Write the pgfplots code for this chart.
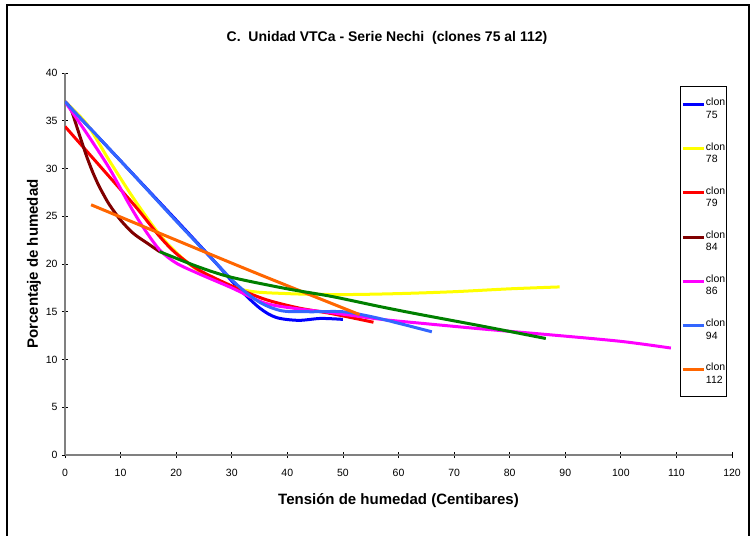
\documentclass[border=0pt]{standalone}
\usepackage{pgfplots}
\pgfplotsset{compat=1.18}
\usepackage{fontspec}
\setmainfont{Liberation Sans}
\definecolor{cBlue}{RGB}{0,0,255}
\definecolor{cYellow}{RGB}{255,255,0}
\definecolor{cRed}{RGB}{255,0,0}
\definecolor{cBrown}{RGB}{128,0,0}
\definecolor{cMag}{RGB}{255,0,255}
\definecolor{cLBlue}{RGB}{51,102,255}
\definecolor{cOrange}{RGB}{255,102,0}
\definecolor{cGreen}{RGB}{0,128,0}
\definecolor{axgray}{RGB}{128,128,128}
\begin{document}
\begin{tikzpicture}
\path[use as bounding box] (0pt,0pt) rectangle (751pt,535pt);
\draw[line width=2pt] (7pt,-10pt) -- (7pt,530pt) -- (749pt,530pt) -- (749pt,-10pt);
\node[font=\bfseries\fontsize{14}{16}\selectfont] at (387pt,497pt) {C.\ \ Unidad VTCa - Serie Nechi\ \ (clones 75 al 112)};
\begin{axis}[
  at={(65pt,80pt)}, anchor=south west,
  width=667pt, height=382pt, scale only axis,
  xmin=0, xmax=120, ymin=0, ymax=40,
  xtick={0,10,...,120}, ytick={0,5,...,40},
  axis lines*=left,
  axis line style={axgray, line width=1.2pt},
  tick style={black, line width=0.8pt},
  tick align=center, major tick length=6pt,
  ticklabel style={font=\fontsize{10.5}{12}\selectfont},
  xticklabel style={yshift=-8pt},
  yticklabel style={xshift=-1pt},
  /pgf/number format/assume math mode=true,
  xlabel={Tensión de humedad (Centibares)},
  ylabel={Porcentaje de humedad},
  label style={font=\bfseries\fontsize{15}{17}\selectfont},
  xlabel style={yshift=-10pt},
  ylabel style={yshift=-2pt},
  legend style={at={(0.922,0.965)}, anchor=north west, draw=black, line width=1pt,
    font=\fontsize{10.5}{12.5}\selectfont, cells={align=left, anchor=west},
    nodes={inner sep=0.5pt},
    row sep=21.5pt, inner xsep=1pt, inner ysep=11pt},
  legend image code/.code={\draw[#1] (0pt,4.5pt) -- (21pt,4.5pt);},
  every axis plot/.append style={line width=3pt, smooth},
]
\addplot[cBlue] coordinates {(0,37) (10,30.8) (20,24.6) (27,20.2) (31,17.6) (35,15.4) (38,14.4) (42,14.1) (46,14.3) (50,14.2)};
\addlegendentry{clon\\75}
\addplot[cYellow] coordinates {(0,37) (4,34.6) (8,30.8) (13,26.3) (18,22.4) (24,19.3) (32,17.3) (40,16.9) (50,16.8) (60,16.9) (70,17.1) (80,17.4) (89,17.6)};
\addlegendentry{clon\\78}
\addplot[cRed] coordinates {(0,34.4) (5,31.1) (10,27.8) (13,25.8) (17,22.9) (20,21.1) (24,19.4) (30,17.7) (36,16.3) (42,15.4) (48,14.8) (55.5,13.9)};
\addlegendentry{clon\\79}
\addplot[cBrown] coordinates {(0,37) (1,36.3) (2,34.6) (3,32.8) (4,31.1) (5,29.6) (6,28.3) (7,27.2) (8,26.2) (10,24.6) (12.3,23.2) (15,22.1) (17,21.3)};
\addlegendentry{clon\\84}
\addplot[cMag] coordinates {(0,37) (4,33.6) (8,30) (11.4,26.4) (14,23.9) (17,21.5) (20,20.1) (24,19) (30,17.5) (36,15.9) (42,15.3) (48,14.9) (57,14.2) (64,13.8) (75,13.2) (87,12.6) (100,11.9) (109,11.2)};
\addlegendentry{clon\\86}
\addplot[cLBlue] coordinates {(0,37) (10,30.8) (20,24.5) (27,20.2) (31,17.8) (35,16) (39,15.1) (44,15) (50,15) (55,14.5) (60,13.8) (66,12.9)};
\addlegendentry{clon\\94}
\addplot[cOrange] coordinates {(4.7,26.2) (20,22.5) (35,18.9) (53,14.7)};
\addlegendentry{clon\\112}
\addplot[cGreen, forget plot] coordinates {(17,21.3) (24,19.7) (30,18.6) (40,17.4) (48,16.6) (57,15.5) (64,14.7) (75,13.5) (86.5,12.2)};
\end{axis}
\end{tikzpicture}
\end{document}
